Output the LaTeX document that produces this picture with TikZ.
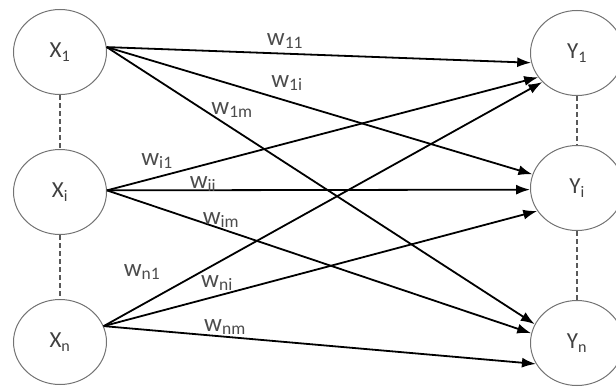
\documentclass[tikz,border=0pt]{standalone}
\usepackage{fontspec}
\setmainfont{Carlito}
\usetikzlibrary{arrows.meta,shapes.geometric}

\begin{document}
\begin{tikzpicture}[x=1pt,y=-1pt,
        unit/.style={ellipse,draw=black!55,line width=1pt,minimum width=93pt,minimum height=85pt,inner sep=0pt,text=black!75,font=\fontsize{23}{26}\selectfont},
        link/.style={line width=1.8pt,-{Latex[length=14pt,width=10pt]}},
        wt/.style={inner sep=0pt,text=black!70,font=\fontsize{25}{28}\selectfont},
        gap/.style={draw=black!65,line width=1.3pt,dash pattern=on 5pt off 3pt}]
            \useasboundingbox (0,0) rectangle (616,388);

            % input and output units
            \node[unit] (X1) at (60,52) {X\textsubscript{1}};
            \node[unit] (Xi) at (60,192) {X\textsubscript{i}};
            \node[unit] (Xn) at (60,342) {X\textsubscript{n}};
            \node[unit] (Y1) at (577,53) {Y\textsubscript{1}};
            \node[unit] (Yi) at (577,188) {Y\textsubscript{i}};
            \node[unit] (Yn) at (577,343) {Y\textsubscript{n}};

            \draw[gap] (X1.south) -- (Xi.north);
            \draw[gap] (Xi.south) -- (Xn.north);
            \draw[gap] (Y1.south) -- (Yi.north);
            \draw[gap] (Yi.south) -- (Yn.north);

            % weighted connections
            \foreach \a/\b in {X1.6/Y1.192, X1.6/Yi.163, X1.6/Yn.156,
                               Xi.2/Y1.212, Xi.2/Yi.182, Xi.2/Yn.168,
                               Xn.20/Y1.220, Xn.20/Yi.210, Xn.20/Yn.207}{
                \draw[link] (\a) -- (\b);
            }

            \node[wt] (w11) at (285,41) {w\textsubscript{11}};
            \node[wt] (w1i) at (287,83) {w\textsubscript{1i}};
            \node[wt] (w1m) at (232,110) {w\textsubscript{1m}};
            \node[wt] (wi1) at (157,161) {w\textsubscript{i1}};
            \node[wt] (wii) at (203,184) {w\textsubscript{ii}};
            \node[wt] (wim) at (221,220) {w\textsubscript{im}};
            \node[wt] (wn1) at (142,272) {w\textsubscript{n1}};
            \node[wt] (wni) at (217,283) {w\textsubscript{ni}};
            \node[wt] (wnm) at (225,327) {w\textsubscript{nm}};
\end{tikzpicture}
\end{document}
